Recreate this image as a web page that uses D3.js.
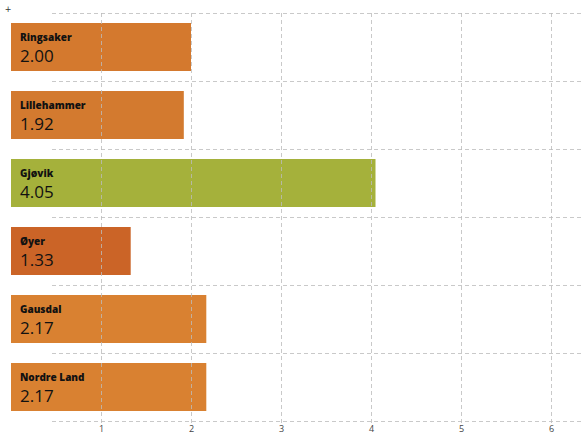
<!DOCTYPE html>
<html>
<head>
<meta charset="utf-8">
<script src="https://cdn.jsdelivr.net/npm/d3@7"></script>
<style>
  html, body { margin: 0; padding: 0; background: #fff; }
  svg { display: block; }
</style>
</head>
<body>
<div id="chart"></div>
<script>
// data
const kommuner = ["Ringsaker", "Lillehammer", "Gjøvik", "Øyer", "Gausdal", "Nordre Land"];
const verdier = [2.00, 1.92, 4.05, 1.33, 2.17, 2.17];
const farger = ["#D4792E", "#D37A2F", "#A5B13B", "#CB6427", "#D98131", "#D98131"];
const xTicks = [1, 2, 3, 4, 5, 6];

const width = 581;
const height = 435;

const svg = d3.select("#chart")
  .append("svg")
  .attr("width", width)
  .attr("height", height);

// 90px per unit, zero at x=11
const x = d3.scaleLinear().domain([0, 6]).range([11, 551]);
const y = d3.scaleBand().domain(kommuner).range([13, 421]);

const barPad = 10;

// bars
svg.selectAll("rect.bar")
  .data(kommuner)
  .join("rect")
  .attr("class", "bar")
  .attr("x", x(0))
  .attr("y", d => y(d) + barPad)
  .attr("width", (d, i) => x(verdier[i]) - x(0))
  .attr("height", y.bandwidth() - 2 * barPad)
  .attr("fill", (d, i) => farger[i]);

// grid (drawn on top of bars)
const grid = svg.append("g")
  .attr("stroke", "#bbb")
  .attr("stroke-opacity", 0.8)
  .attr("stroke-width", 1)
  .attr("stroke-dasharray", "4,3");

const rowLines = y.domain().map(d => y(d)).concat([y.range()[1]]);
grid.selectAll("line.h")
  .data(rowLines)
  .join("line")
  .attr("class", "h")
  .attr("x1", 52)
  .attr("x2", width)
  .attr("y1", d => Math.round(d) + 0.5)
  .attr("y2", d => Math.round(d) + 0.5);

grid.selectAll("line.v")
  .data(xTicks)
  .join("line")
  .attr("class", "v")
  .attr("x1", d => Math.round(x(d)) + 0.5)
  .attr("x2", d => Math.round(x(d)) + 0.5)
  .attr("y1", 13)
  .attr("y2", 425);

// tick labels
svg.selectAll("text.tick")
  .data(xTicks)
  .join("text")
  .attr("class", "tick")
  .attr("x", d => x(d) + 0.5)
  .attr("y", 432)
  .attr("text-anchor", "middle")
  .attr("font-family", "'Open Sans', sans-serif")
  .attr("font-size", "9px")
  .attr("fill", "#444")
  .text(d => d);

// bar labels
const lab = svg.selectAll("g.lab")
  .data(kommuner)
  .join("g")
  .attr("class", "lab")
  .attr("transform", d => `translate(20,${y(d) + barPad})`);

lab.append("text")
  .attr("y", 18)
  .attr("font-family", "'Open Sans', sans-serif")
  .attr("font-weight", "800")
  .attr("font-size", "10px")
  .attr("fill", "#111")
  .text(d => d);

lab.append("text")
  .attr("y", 39)
  .attr("font-family", "'Open Sans', sans-serif")
  .attr("font-size", "17px")
  .attr("fill", "#111")
  .text((d, i) => verdier[i].toFixed(2));

// small corner mark
svg.append("text")
  .attr("x", 8)
  .attr("y", 12)
  .attr("text-anchor", "middle")
  .attr("font-family", "'DejaVu Sans', sans-serif")
  .attr("font-size", "8px")
  .attr("fill", "#333")
  .text("+");
</script>
</body>
</html>
